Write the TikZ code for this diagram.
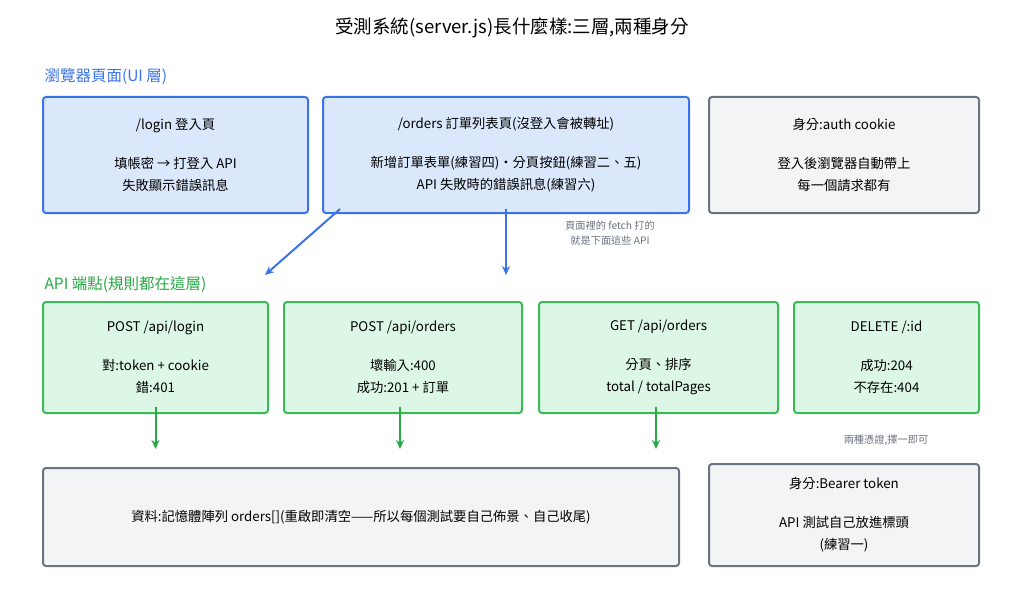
\documentclass[tikz,border=0pt]{standalone}
\usepackage{fontspec}
\setmainfont{Noto Sans CJK TC}
\usetikzlibrary{positioning,arrows.meta}
\definecolor{uiline}{HTML}{3B73E8}
\definecolor{uifill}{HTML}{DBE8FC}
\definecolor{apiline}{HTML}{3CBA5A}
\definecolor{apifill}{HTML}{DCF7E5}
\definecolor{apitext}{HTML}{28A745}
\definecolor{grayline}{HTML}{6B7280}
\definecolor{grayfill}{HTML}{F3F4F6}
\definecolor{notetext}{HTML}{6B7280}
\begin{document}
\begin{tikzpicture}[x=1pt,y=-1pt,
				box/.style={rounded corners=3pt, line width=2pt, align=center, font=\fontsize{13.3}{22}\selectfont, inner sep=0pt},
				uibox/.style={box, draw=uiline, fill=uifill},
				apibox/.style={box, draw=apiline, fill=apifill},
				graybox/.style={box, draw=grayline, fill=grayfill},
				section/.style={anchor=west, font=\fontsize{15.5}{17}\selectfont},
				note/.style={align=center, text=notetext, font=\fontsize{10.2}{15}\selectfont},
				uiarrow/.style={draw=uiline, line width=2pt, -{Stealth[length=9pt,width=8pt]}},
				apiarrow/.style={draw=apitext, line width=2pt, -{Stealth[length=9pt,width=8pt]}}
			]
			\useasboundingbox (0,0) rectangle (1024,591);
			\node (title) at (512,28) {\fontsize{18.5}{20}\selectfont 受測系統(server.js)長什麼樣:三層,兩種身分};
			% UI layer
			\node[section, text=uiline] (uilabel) at (41,77) {瀏覽器頁面(UI 層)};
			\node[uibox, minimum width=265pt, minimum height=116pt] (login) at (175.5,155) {/login 登入頁\\[17pt]填帳密 → 打登入 API\\失敗顯示錯誤訊息};
			\node[uibox, minimum width=366pt, minimum height=116pt] (orders) at (506,155) {/orders 訂單列表頁(沒登入會被轉址)\\[17pt]新增訂單表單(練習四)・分頁按鈕(練習二、五)\\API 失敗時的錯誤訊息(練習六)};
			\node[graybox, minimum width=270pt, minimum height=116pt] (cookie) at (844,155) {身分:auth cookie\\[17pt]登入後瀏覽器自動帶上\\每一個請求都有};
			\node[note] (fetchnote) at (610,233) {頁面裡的 fetch 打的\\就是下面這些 API};
			% API layer
			\node[section, text=apitext] (apilabel) at (41,284) {API 端點(規則都在這層)};
			\node[apibox, minimum width=225pt, minimum height=111pt] (postlogin) at (155.5,357.5) {POST /api/login\\[17pt]對:token + cookie\\錯:401};
			\node[apibox, minimum width=238pt, minimum height=111pt] (postorders) at (403,357.5) {POST /api/orders\\[17pt]壞輸入:400\\成功:201 + 訂單};
			\node[apibox, minimum width=239pt, minimum height=111pt] (getorders) at (658.5,357.5) {GET /api/orders\\[17pt]分頁、排序\\total / totalPages};
			\node[apibox, minimum width=185pt, minimum height=111pt] (delete) at (886.5,357.5) {DELETE /:id\\[17pt]成功:204\\不存在:404};
			\node[note] (authnote) at (886,440) {兩種憑證,擇一即可};
			% data and bearer
			\node[graybox, minimum width=636pt, minimum height=98pt] (data) at (361,517) {資料:記憶體陣列 orders[](重啟即清空——所以每個測試要自己佈景、自己收尾)};
			\node[graybox, minimum width=270pt, minimum height=102pt] (bearer) at (844,515) {身分:Bearer token\\[17pt]API 測試自己放進標頭\\(練習一)};
			\coordinate (a1) at (265,275);
			\coordinate (a2) at (506,275);
			\draw[uiarrow] ([xshift=-166pt,yshift=5pt]orders.south) -- (a1);
			\draw[uiarrow] ([yshift=5pt]orders.south) -- (a2);
			\draw[apiarrow] ([yshift=7pt]postlogin.south) -- ++(0,42);
			\draw[apiarrow] ([xshift=-3pt,yshift=7pt]postorders.south) -- ++(0,42);
			\draw[apiarrow] ([xshift=-2.5pt,yshift=7pt]getorders.south) -- ++(0,42);
		\end{tikzpicture}
\end{document}
